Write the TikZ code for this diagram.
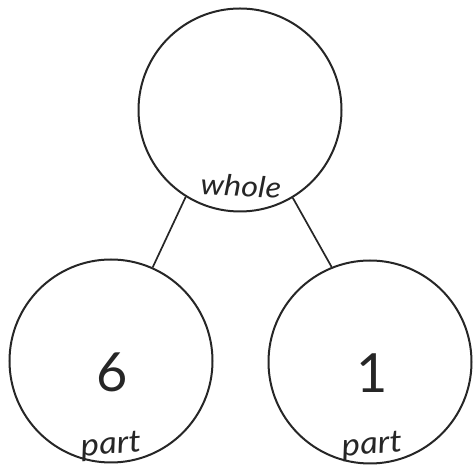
\documentclass[tikz,border=0pt]{standalone}
\usepackage{fontspec}
\setmainfont{Lato}
\begin{document}
\begin{tikzpicture}[
			x = 1pt, y = 1pt,
			ring/.style = {circle, draw = black!85, line width = 2pt, inner sep = 0pt, minimum size = 203pt},
			number/.style = {font = \fontsize{54}{54}\selectfont, text = black!85},
			tag/.style = {font = \fontsize{29}{29}\selectfont\itshape, text = black!85, inner sep = 0pt, xscale = 1.12},
			link/.style = {draw = black!85, line width = 1.7pt}
			]

			\useasboundingbox (0,0) rectangle (474,468);

			% circles
			\node[ring] (whole) at (240,358) {};
			\node[ring] (partA) at (111,107) {};
			\node[ring] (partB) at (370,106) {};

			% texts
			\node[number] (six) at (112,96) {6};
			\node[number] (one) at (372,95) {1};
			\node[tag, rotate = -3] (wholetext) at (241,282) {whole};
			\node[tag, rotate = 5, font = \fontsize{31}{31}\selectfont\itshape] (parttextA) at (111,22) {part};
			\node[tag, rotate = 5, font = \fontsize{31}{31}\selectfont\itshape] (parttextB) at (372,22) {part};

			% connectors
			\draw[link] (whole.238.6) -- (partA.66.7);
			\draw[link] (whole.301.8) -- (partB.112.3);

		\end{tikzpicture}
\end{document}
